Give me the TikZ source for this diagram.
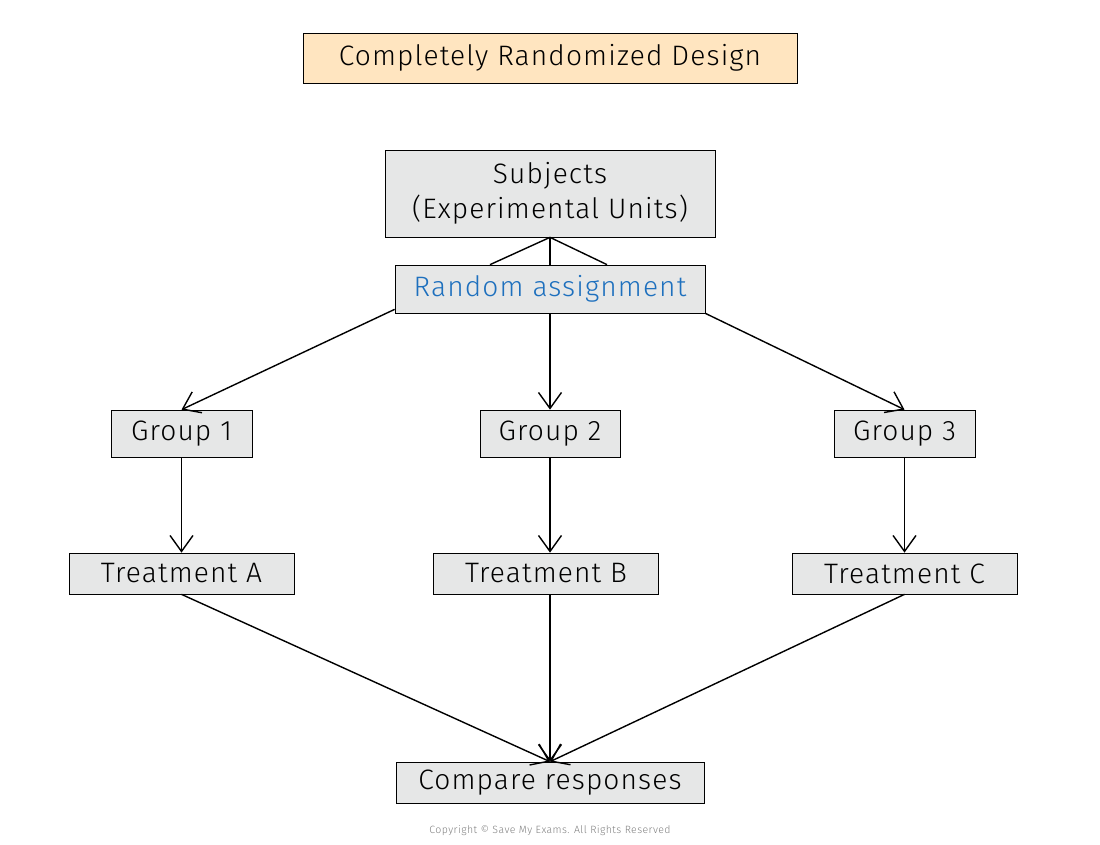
\documentclass[tikz,border=0pt]{standalone}
\usepackage{fontspec}
\setmainfont{Fira Sans Light}[LetterSpace=4]
\usetikzlibrary{arrows.meta}
\definecolor{boxgray}{RGB}{230,231,231}
\definecolor{titlefill}{RGB}{255,229,192}
\definecolor{randblue}{RGB}{30,112,190}
\tikzset{
  box/.style={draw=black, fill=boxgray, inner sep=0pt, font=\fontsize{16}{20}\selectfont, align=center},
  arr/.style={-{Straight Barb[length=3.2mm,width=4.6mm]}, thick},
  link/.style={thick}
}
\begin{document}
\begin{tikzpicture}
  \useasboundingbox (0,0) rectangle (22,-16.9);

  % Define nodes
  \node[box, fill=titlefill, minimum width=9.88cm, minimum height=1cm] (title) at (11,-1.16) {Completely Randomized Design};
  \node[box, minimum width=6.6cm, minimum height=1.74cm] (subj) at (11,-3.87) {Subjects\\(Experimental Units)};
  \node[box, text=randblue, minimum width=6.2cm, minimum height=0.96cm] (rand) at (11,-5.78) {Random assignment};
  \node[box, minimum width=2.82cm, minimum height=0.94cm] (g1) at (3.63,-8.67) {Group 1};
  \node[box, minimum width=2.8cm, minimum height=0.94cm] (g2) at (11,-8.67) {Group 2};
  \node[box, minimum width=2.82cm, minimum height=0.94cm] (g3) at (18.09,-8.67) {Group 3};
  \node[box, minimum width=4.5cm, minimum height=0.82cm] (tA) at (3.63,-11.47) {Treatment A};
  \node[box, minimum width=4.5cm, minimum height=0.82cm] (tB) at (10.92,-11.47) {Treatment B};
  \node[box, minimum width=4.5cm, minimum height=0.82cm] (tC) at (18.09,-11.47) {Treatment C};
  \node[box, minimum width=6.16cm, minimum height=0.82cm] (cmp) at (11,-15.65) {Compare responses};
  \node[text=gray, font=\fontsize{6}{7}\selectfont] (copy) at (11,-16.62) {Copyright © Save My Exams. All Rights Reserved};

  % Connect the nodes
  \draw[link] (subj.south) -- ([xshift=-1.2cm]rand.north);
  \draw[link] (subj.south) -- (rand.north);
  \draw[link] (subj.south) -- ([xshift=1.14cm]rand.north);
  \draw[arr] ([yshift=0.08cm]rand.south west) -- (g1.north);
  \draw[arr] (rand.south) -- (g2.north);
  \draw[arr] (rand.south east) -- (g3.north);
  \draw[arr] (g1) -- (tA);
  \draw[arr] (g2) -- (g2 |- tB.north);
  \draw[arr] (g3) -- (tC);
  \draw[arr] (tA.south) -- (cmp.north);
  \draw[arr] (cmp.north |- tB.south) -- (cmp.north);
  \draw[arr] (tC.south) -- (cmp.north);

\end{tikzpicture}
\end{document}
